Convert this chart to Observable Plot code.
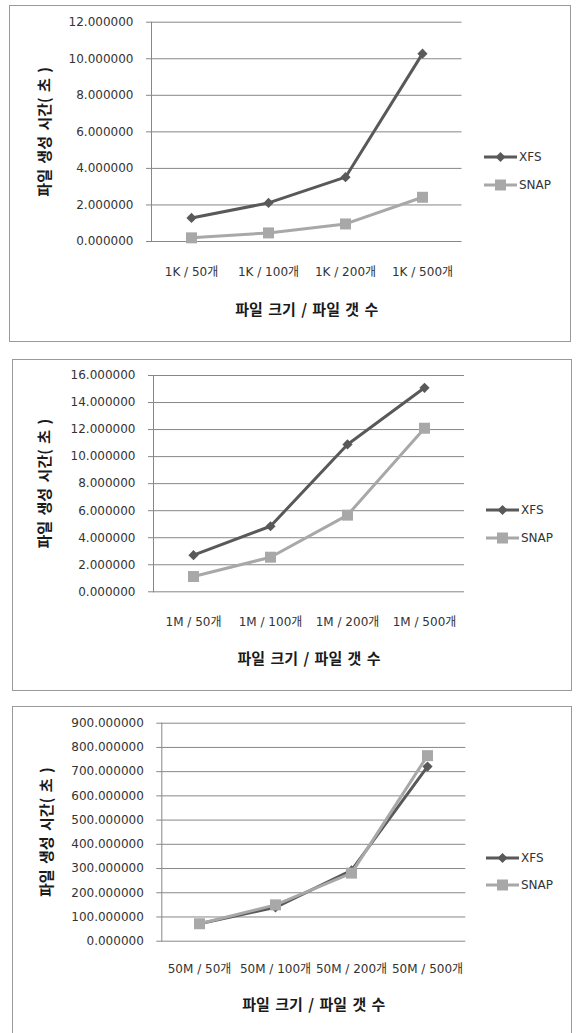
<!DOCTYPE html>
<html>
<head>
<meta charset="utf-8">
<script src="https://cdn.jsdelivr.net/npm/d3@7"></script>
<script src="https://cdn.jsdelivr.net/npm/@observablehq/plot@0.6"></script>
<style>
  html, body { margin: 0; padding: 0; background: #fff; overflow: hidden; }
  body { width: 576px; height: 1033px; position: relative; font-family: "DejaVu Sans", "Noto Sans CJK KR", sans-serif; }
  .panel { position: absolute; box-sizing: border-box; border: 1px solid #9a9a9a; background: #fff; }
  .panel > svg { position: absolute; left: 0; top: 0; }
  .legend { position: absolute; font-size: 12px; color: #333; }
  .legend .item { position: absolute; left: 0; display: flex; align-items: center; white-space: nowrap; }
  .legend .item svg { display: block; }
  .legend .item span { margin-left: 2px; }
</style>
</head>
<body>
<script>
// ---- data ----
const seriesNames = ["XFS", "SNAP"];
const cats1 = ["1K / 50개", "1K / 100개", "1K / 200개", "1K / 500개"];
const xfs1  = [1.29, 2.11, 3.52, 10.28];
const snap1 = [0.20, 0.47, 0.96, 2.42];
const yTicks1 = [0, 2, 4, 6, 8, 10, 12];

const cats2 = ["1M / 50개", "1M / 100개", "1M / 200개", "1M / 500개"];
const xfs2  = [2.71, 4.85, 10.90, 15.09];
const snap2 = [1.13, 2.56, 5.67, 12.10];
const yTicks2 = [0, 2, 4, 6, 8, 10, 12, 14, 16];

const cats3 = ["50M / 50개", "50M / 100개", "50M / 200개", "50M / 500개"];
const xfs3  = [72, 140, 292, 721];
const snap3 = [72, 150, 281, 766];
const yTicks3 = [0, 100, 200, 300, 400, 500, 600, 700, 800, 900];

const yTitle = "파일 생성 시간( 초 )";
const xTitle = "파일 크기 / 파일 갯 수";

const colors = {XFS: "#595959", SNAP: "#a8a8a8"};

function table(cats, a, b) {
  const rows = [];
  cats.forEach((c, i) => rows.push({cat: c, series: "XFS", value: a[i]}));
  cats.forEach((c, i) => rows.push({cat: c, series: "SNAP", value: b[i]}));
  return rows;
}

function panel(cfg) {
  const div = document.createElement("div");
  div.className = "panel";
  div.style.left = cfg.left + "px";
  div.style.top = cfg.top + "px";
  div.style.width = cfg.w + "px";
  div.style.height = cfg.h + "px";
  if (cfg.noBottom) div.style.borderBottom = "none";
  document.body.appendChild(div);

  const innerW = cfg.w - 2, innerH = cfg.svgH;
  const rows = table(cfg.cats, cfg.xfs, cfg.snap);
  const xfsRows = rows.filter(d => d.series === "XFS");
  const snapRows = rows.filter(d => d.series === "SNAP");
  const yMax = cfg.ticks[cfg.ticks.length - 1];
  const titleFont = '"Noto Sans CJK KR", sans-serif';

  const chart = Plot.plot({
    width: innerW,
    height: innerH,
    marginLeft: cfg.ml,
    marginRight: cfg.mr,
    marginTop: cfg.mt,
    marginBottom: cfg.mb,
    style: {fontFamily: '"DejaVu Sans", "Noto Sans CJK KR", sans-serif', fontSize: "12px", color: "#333", background: "transparent", overflow: "visible"},
    x: {type: "point", domain: cfg.cats, padding: 0.5, axis: null},
    y: {domain: [0, yMax], axis: null},
    marks: [
      Plot.gridY(cfg.ticks, {stroke: "#878787", strokeOpacity: 1, strokeWidth: 1}),
      Plot.axisY(cfg.ticks, {tickSize: 5, tickPadding: 13, stroke: "#878787", tickFormat: d3.format(".6f"), label: null, fontSize: 12}),
      Plot.frame({anchor: "left", stroke: "#878787"}),
      Plot.axisX(cfg.cats, {tickSize: 0, tickPadding: cfg.xPad, label: null, fontSize: 12}),
      Plot.lineY(xfsRows, {x: "cat", y: "value", stroke: colors.XFS, strokeWidth: 3}),
      Plot.dot(xfsRows, {x: "cat", y: "value", symbol: "diamond2", r: 4.6, fill: colors.XFS, stroke: "none"}),
      Plot.lineY(snapRows, {x: "cat", y: "value", stroke: colors.SNAP, strokeWidth: 3}),
      Plot.dot(snapRows, {x: "cat", y: "value", symbol: "square", r: 6.2, fill: colors.SNAP, stroke: "none"}),
      Plot.text([yTitle], {frameAnchor: "left", text: d => d, rotate: -90, textAnchor: "middle", lineAnchor: "middle", dx: cfg.yTitleDx, fontWeight: "bold", fontSize: 15, fill: "#1a1a1a", fontFamily: titleFont}),
      Plot.text([xTitle], {frameAnchor: "bottom", text: d => d, textAnchor: "middle", lineAnchor: "middle", dy: cfg.xTitleDy, fontWeight: "bold", fontSize: 15, fill: "#1a1a1a", fontFamily: titleFont})
    ]
  });
  chart.querySelectorAll("text").forEach(t => {
    if (t.textContent === yTitle || t.textContent === xTitle) t.style.wordSpacing = "2px";
  });
  div.appendChild(chart);

  // legend
  const leg = document.createElement("div");
  leg.className = "legend";
  leg.style.left = (cfg.legX - cfg.left - 1) + "px";
  leg.style.top = "0px";
  div.appendChild(leg);
  seriesNames.forEach((name, i) => {
    const item = document.createElement("div");
    item.className = "item";
    const y = (i === 0 ? cfg.legY1 : cfg.legY2) - cfg.top - 1;
    item.style.top = (y - 8) + "px";
    item.style.height = "16px";
    const marker = name === "XFS"
      ? `<path d="M16.5,3 L21.5,8 L16.5,13 L11.5,8 Z" fill="${colors.XFS}"/>`
      : `<rect x="11" y="2.5" width="11" height="11" fill="${colors.SNAP}"/>`;
    item.innerHTML = `<svg width="33" height="16"><line x1="0" x2="33" y1="8" y2="8" stroke="${colors[name]}" stroke-width="3"/>${marker}</svg><span>${name}</span>`;
    leg.appendChild(item);
  });
}

panel({left: 9, top: 5, w: 562, h: 337, svgH: 335, cats: cats1, xfs: xfs1, snap: snap1, ticks: yTicks1,
  ml: 141, mr: 108.5, mt: 15.7, mb: 100, xPad: 26, xTitleDy: 69, yTitleDx: -106,
  legX: 484, legY1: 157, legY2: 185});
panel({left: 12, top: 359, w: 560, h: 332, svgH: 330, cats: cats2, xfs: xfs2, snap: snap2, ticks: yTicks2,
  ml: 140, mr: 107, mt: 15, mb: 98.7, xPad: 26, xTitleDy: 67, yTitleDx: -108,
  legX: 486, legY1: 510, legY2: 538});
panel({left: 12, top: 706, w: 560, h: 340, svgH: 330, cats: cats3, xfs: xfs3, snap: snap3, ticks: yTicks3,
  ml: 148.3, mr: 105.7, mt: 15.7, mb: 96.3, xPad: 23, xTitleDy: 64, yTitleDx: -115, noBottom: true,
  legX: 486, legY1: 858, legY2: 885});
</script>
</body>
</html>
